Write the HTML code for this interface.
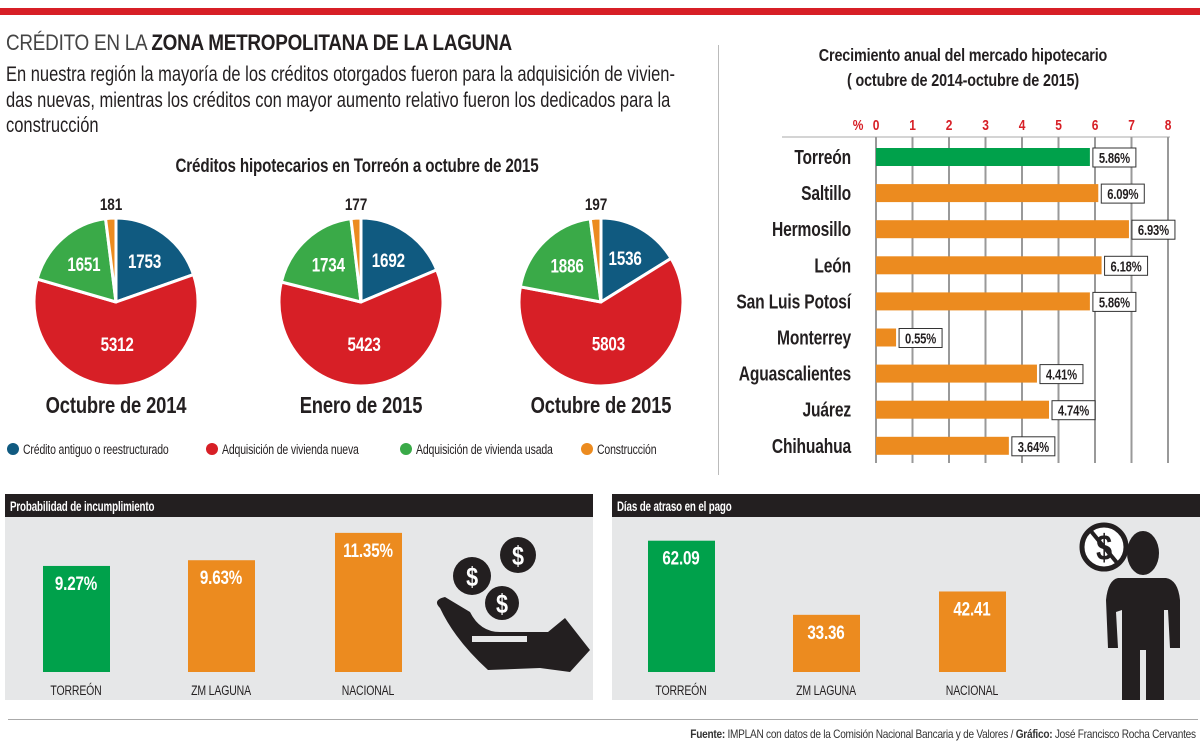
<!DOCTYPE html>
<html><head><meta charset="utf-8">
<style>
html,body{margin:0;padding:0;background:#fff;}
body{width:1200px;height:750px;position:relative;overflow:hidden;font-family:"Liberation Sans",sans-serif;color:#231f20;}
.a{position:absolute;white-space:nowrap;}
.c{transform-origin:0 0;transform:scaleX(0.8);}
</style></head><body>
<div class="a" style="left:0;top:8px;width:1200px;height:7px;background:#d71f26"></div>
<div class="a c" style="left:6px;top:30px;font-size:22px;letter-spacing:-0.3px;transform:scaleX(0.86)"><span style="font-weight:300;color:#444">CRÉDITO EN LA </span><b>ZONA METROPOLITANA DE LA LAGUNA</b></div>
<div class="a c" style="left:6px;top:62px;font-size:21px;line-height:25.5px;transform:scaleX(0.785)">En nuestra región la mayoría de los créditos otorgados fueron para la adquisición de vivien-<br>das nuevas, mientras los créditos con mayor aumento relativo fueron los dedicados para la<br>construcción</div>
<div class="a" style="left:718px;top:45px;width:1px;height:430px;background:#bbb"></div>

<svg class="a" style="left:0;top:0" width="1200" height="750" id="svg"></svg>

<div class="a" style="left:8px;top:719px;width:1190px;height:1px;background:#aaa"></div>
<div class="a" style="right:4px;top:727px;font-size:12px;letter-spacing:-0.3px;color:#333;transform-origin:100% 0;transform:scaleX(0.84)"><b>Fuente:</b> IMPLAN con datos de la Comisión Nacional Bancaria y de Valores / <b>Gráfico:</b> José Francisco Rocha Cervantes</div>

<script>
// ---- pie data
const pieLabels=["Octubre de 2014","Enero de 2015","Octubre de 2015"];
const antiguo=[1753,1692,1536];
const nueva=[5312,5423,5803];
const usada=[1651,1734,1886];
const construccion=[181,177,197];
const legendLabels=["Crédito antiguo o reestructurado","Adquisición de vivienda nueva","Adquisición de vivienda usada","Construcción"];
// ---- growth bar chart
const cities=["Torreón","Saltillo","Hermosillo","León","San Luis Potosí","Monterrey","Aguascalientes","Juárez","Chihuahua"];
const growth=[5.86,6.09,6.93,6.18,5.86,0.55,4.41,4.74,3.64];
const growthTicks=[0,1,2,3,4,5,6,7,8];
// ---- bottom charts
const regions=["TORREÓN","ZM LAGUNA","NACIONAL"];
const probValues=[9.27,9.63,11.35];
const probLabels=["9.27%","9.63%","11.35%"];
const daysValues=[62.09,33.36,42.41];
const daysLabels=["62.09","33.36","42.41"];

const NS="http://www.w3.org/2000/svg";
const svg=document.getElementById('svg');
const COLORS=["#105a80","#d71f26","#3aaa48","#ec8b1f"];
function mk(tag,attrs,parent){const e=document.createElementNS(NS,tag);for(const k in attrs)e.setAttribute(k,attrs[k]);(parent||svg).appendChild(e);return e;}
function txt(x,y,s,size,opts){opts=opts||{};const sx=opts.sx||0.8;const t=mk('text',{x:x,y:y,'font-size':size,'font-family':'"Liberation Sans",sans-serif','font-weight':opts.w||'bold',fill:opts.fill||'#231f20','text-anchor':opts.anchor||'middle','letter-spacing':opts.ls||'-0.2',transform:`translate(${x} 0) scale(${sx} 1) translate(${-x} 0)`},opts.parent);t.textContent=s;return t;}

let t=txt(357,172,"Créditos hipotecarios en Torreón a octubre de 2015",19);



const pcx=[116,361,601], pcy=302, rx=82, ry=84;
for(let i=0;i<3;i++){
  const vals=[antiguo[i],nueva[i],usada[i],construccion[i]];
  const tot=vals.reduce((a,b)=>a+b,0);
  let a0=0;
  const g=mk('g',{});
  
  
  vals.forEach((v,j)=>{
    const a1=a0+v/tot*2*Math.PI;
    const x0=pcx[i]+rx*Math.sin(a0),y0=pcy-ry*Math.cos(a0);
    const x1=pcx[i]+rx*Math.sin(a1),y1=pcy-ry*Math.cos(a1);
    const p=mk('path',{d:`M${pcx[i]},${pcy}L${x0},${y0}A${rx},${ry} 0 ${(a1-a0)>Math.PI?1:0} 1 ${x1},${y1}Z`,fill:COLORS[j],stroke:'#fff','stroke-width':3,'stroke-linejoin':'round'},g);
    
    
    const am=(a0+a1)/2;
    if(j<3){
      const rr=j===1?0.5:0.6;
      const lt=txt(pcx[i]+rx*rr*Math.sin(am),pcy-ry*rr*Math.cos(am)+7,String(v),19,{fill:'#fff',parent:g});
      
      
    } else {
      const lt=txt(pcx[i]-5,210,String(v),17,{parent:g});
      
      
    }
    a0=a1;
  });
  const pl=txt(pcx[i],413,pieLabels[i],23);
  
  
}
const lx=[13,212,406,587];
legendLabels.forEach((s,j)=>{
  const c=mk('circle',{cx:lx[j],cy:449,r:6,fill:COLORS[j]});
  
  
  const lt=txt(lx[j]+10,454,s,14,{anchor:'start',w:'normal',sx:0.75});
  
  
});

// growth chart
const gx=v=>876+v*36.5;
const gy=i=>157+i*36.1;
t=txt(963,61,"Crecimiento anual del mercado hipotecario",18);


t=txt(963,86,"( octubre de 2014-octubre de 2015)",18);


t=txt(858,130,"%",15,{fill:'#d71f26'});


let e=mk('line',{x1:782,x2:1170,y1:137,y2:137,stroke:'#aaa','stroke-width':1});


growthTicks.forEach(v=>{
  const l=mk('line',{x1:gx(v),x2:gx(v),y1:137,y2:463,stroke:'#999','stroke-width':2});
  
  
  const tl=txt(gx(v),130,String(v),15,{fill:'#d71f26'});
  
  
});
cities.forEach((c,i)=>{
  const y=gy(i);
  const cl=txt(851,y+7,c,20,{anchor:'end',sx:0.78});
  
  
  const b=mk('rect',{x:gx(0),y:y-9,width:gx(growth[i])-gx(0),height:18,fill:i===0?'#00a14b':'#ec8b1f'});
  
  
  const bx=gx(growth[i])+3;
  const r=mk('rect',{x:bx,y:y-9,width:43,height:19,fill:'#fff',stroke:'#333','stroke-width':1});
  
  
  const vl=txt(bx+21.5,y+6,growth[i].toFixed(2)+"%",15,{sx:0.75});
  
  
});

function panel(x0,w,title,name){
  const bg=mk('rect',{x:x0,y:517,width:w,height:183,fill:'#e6e7e8'});
  
  
  const h=mk('rect',{x:x0,y:494,width:w,height:23,fill:'#231f20'});
  
  
  const tt=txt(x0+5,511,title,14,{anchor:'start',fill:'#fff',sx:0.7});
  
  
}
panel(5,588,"Probabilidad de incumplimiento","probability-panel");
panel(612,588,"Días de atraso en el pago","days-panel");
const BASE=672;
const probH=v=>(v-2.6)*15.9;
const daysH=v=>(v-11.2)*2.58;
const px=[43,188,335], dx=[648,793,939];
function bars(xs,vals,labels,hf,name){
  vals.forEach((v,i)=>{
    const h=hf(v);
    const b=mk('rect',{x:xs[i],y:BASE-h,width:67,height:h,fill:i===0?'#00a14b':'#ec8b1f'});
    
    
    const vl=txt(xs[i]+33,BASE-h+24,labels[i],19,{fill:'#fff'});
    
    
    const cl=txt(xs[i]+33,695,regions[i],14,{w:'normal',sx:0.75});
    
    
  });
}
bars(px,probValues,probLabels,probH,'probability');
bars(dx,daysValues,daysLabels,daysH,'days');

// hand + coins icon
const ic=mk('g',{fill:'#231f20'});


mk('path',{d:'M440,608 Q432,600 445,597 L470,612 Q480,632 500,632 L548,632 L565,618 L590,650 L570,672 L540,668 L488,670 Q455,640 440,608Z'},ic);
mk('rect',{x:472,y:636,width:55,height:6,fill:'#e6e7e8'},ic);
[[472,576,19],[518,555,18],[502,603,17]].forEach(c=>{
  mk('circle',{cx:c[0],cy:c[1],r:c[2]},ic);
  txt(c[0],c[1]+10,'$',27,{fill:'#fff',parent:ic});
});
// person icon
const pi=mk('g',{fill:'#231f20'});


mk('circle',{cx:1104,cy:547,r:22,fill:'#fff',stroke:'#231f20','stroke-width':5},pi);
txt(1104,560,'$',36,{parent:pi});
mk('line',{x1:1090,y1:530,x2:1118,y2:564,stroke:'#231f20','stroke-width':4},pi);
mk('ellipse',{cx:1143,cy:553,rx:16,ry:22},pi);
mk('path',{d:'M1118,578 L1166,578 Q1178,580 1180,600 L1180,648 L1170,648 L1168,610 L1164,610 L1164,700 L1146,700 L1146,650 L1140,650 L1140,700 L1122,700 L1122,610 L1116,612 L1118,648 L1108,648 L1106,600 Q1108,580 1118,578Z'},pi);
</script>
</body></html>
